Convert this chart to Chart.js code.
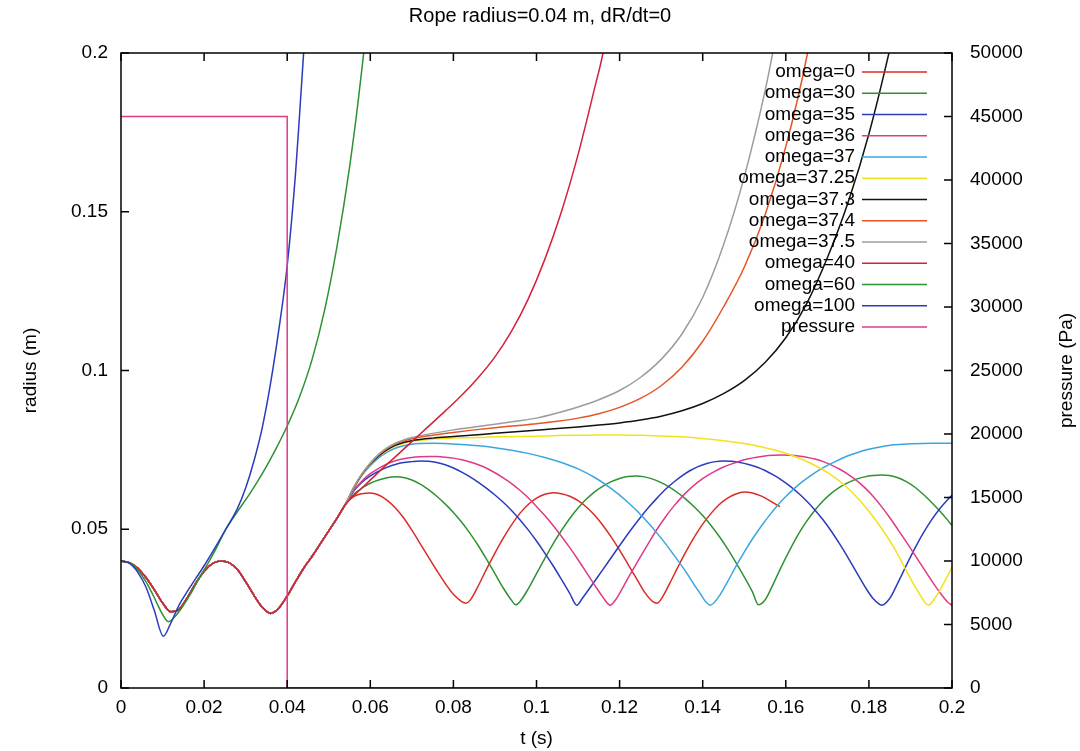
<!DOCTYPE html>
<html>
<head>
<meta charset="utf-8">
<script src="https://cdn.jsdelivr.net/npm/chart.js@4.4.1/dist/chart.umd.min.js"></script>
<style>
html, body { margin: 0; padding: 0; background: #fff; }
</style>
</head>
<body>
<canvas id="chart" width="1080" height="751"></canvas>
<script>
// shared start (omega 0 .. 40 all follow the same path up to t = 0.054)
const tEarly = [0, 0.002, 0.004, 0.006, 0.008, 0.010, 0.012, 0.014, 0.016, 0.018, 0.020, 0.022, 0.024, 0.026,
                0.028, 0.030, 0.032, 0.034, 0.036, 0.038, 0.040, 0.042, 0.044, 0.046, 0.048, 0.050, 0.052, 0.054];
const rEarly = [0.0400, 0.0395, 0.0378, 0.0348, 0.0310, 0.0268, 0.0240, 0.0248, 0.0285, 0.0330, 0.0368, 0.0392, 0.0400, 0.0395,
                0.0373, 0.0335, 0.0292, 0.0254, 0.0235, 0.0252, 0.0290, 0.0335, 0.0378, 0.0415, 0.0455, 0.0495, 0.0535, 0.0578];

// tails [t, radius]
const w0 = [[0.056,0.0603],[0.058,0.0612],[0.060,0.0614],[0.062,0.0608],[0.064,0.0592],[0.066,0.0568],[0.068,0.0536],
  [0.070,0.0497],[0.072,0.0455],[0.074,0.0412],[0.076,0.0370],[0.078,0.0330],[0.080,0.0295],[0.082,0.0272],[0.083,0.0267],
  [0.084,0.0276],[0.086,0.0322],[0.088,0.0375],[0.090,0.0425],[0.092,0.0472],[0.094,0.0514],[0.096,0.0550],[0.098,0.0578],
  [0.100,0.0598],[0.102,0.0610],[0.104,0.0615],[0.106,0.0612],[0.108,0.0604],[0.110,0.0590],[0.112,0.0570],[0.114,0.0544],
  [0.116,0.0512],[0.118,0.0475],[0.120,0.0434],[0.122,0.0390],[0.124,0.0346],[0.126,0.0302],[0.128,0.0272],[0.129,0.0267],
  [0.130,0.0280],[0.132,0.0328],[0.134,0.0380],[0.136,0.0430],[0.138,0.0476],[0.140,0.0516],[0.142,0.0550],[0.144,0.0578],
  [0.146,0.0598],[0.148,0.0611],[0.150,0.0617],[0.152,0.0614],[0.154,0.0605],[0.156,0.0591],[0.1586,0.0571]];

const w30 = [[0.056,0.0610],[0.058,0.0630],[0.060,0.0645],[0.062,0.0655],[0.064,0.0662],[0.066,0.0665],[0.068,0.0663],
  [0.070,0.0655],[0.072,0.0642],[0.074,0.0625],[0.076,0.0604],[0.078,0.0580],[0.080,0.0553],[0.082,0.0522],[0.084,0.0487],
  [0.086,0.0448],[0.088,0.0405],[0.090,0.0360],[0.092,0.0315],[0.094,0.0276],[0.095,0.0262],[0.096,0.0272],[0.098,0.0312],
  [0.100,0.0360],[0.102,0.0408],[0.104,0.0454],[0.106,0.0496],[0.108,0.0534],[0.110,0.0567],[0.112,0.0595],[0.114,0.0618],
  [0.116,0.0636],[0.118,0.0650],[0.120,0.0660],[0.122,0.0666],[0.124,0.0668],[0.126,0.0665],[0.128,0.0658],[0.130,0.0647],
  [0.132,0.0633],[0.134,0.0615],[0.136,0.0594],[0.138,0.0570],[0.140,0.0543],[0.142,0.0512],[0.144,0.0477],[0.146,0.0438],
  [0.148,0.0395],[0.150,0.0350],[0.152,0.0302],[0.1534,0.0262],[0.155,0.0277],[0.157,0.0328],[0.159,0.0384],[0.161,0.0436],
  [0.163,0.0484],[0.165,0.0525],[0.167,0.0560],[0.169,0.0590],[0.171,0.0614],[0.173,0.0633],[0.175,0.0647],[0.177,0.0658],
  [0.179,0.0665],[0.181,0.0669],[0.183,0.0671],[0.185,0.0669],[0.187,0.0662],[0.189,0.0650],[0.191,0.0633],[0.193,0.0611],
  [0.195,0.0586],[0.197,0.0558],[0.199,0.0528],[0.200,0.0512]];

const w35 = [[0.056,0.0620],[0.058,0.0648],[0.060,0.0668],[0.062,0.0683],[0.064,0.0695],[0.066,0.0704],[0.068,0.0710],
  [0.070,0.0713],[0.072,0.0715],[0.074,0.0714],[0.076,0.0710],[0.078,0.0703],[0.080,0.0693],[0.082,0.0680],[0.084,0.0665],
  [0.086,0.0648],[0.088,0.0629],[0.090,0.0608],[0.092,0.0585],[0.094,0.0559],[0.096,0.0530],[0.098,0.0498],[0.100,0.0463],
  [0.102,0.0425],[0.104,0.0385],[0.106,0.0342],[0.108,0.0298],[0.1097,0.0261],[0.111,0.0282],[0.113,0.0318],[0.115,0.0355],
  [0.117,0.0392],[0.119,0.0430],[0.121,0.0467],[0.123,0.0503],[0.125,0.0537],[0.127,0.0569],[0.129,0.0598],[0.131,0.0625],
  [0.133,0.0648],[0.135,0.0668],[0.137,0.0685],[0.139,0.0698],[0.141,0.0707],[0.143,0.0713],[0.145,0.0715],[0.147,0.0714],
  [0.149,0.0710],[0.151,0.0704],[0.153,0.0696],[0.155,0.0685],[0.157,0.0671],[0.159,0.0655],[0.161,0.0636],[0.163,0.0614],
  [0.165,0.0589],[0.167,0.0561],[0.169,0.0529],[0.171,0.0493],[0.173,0.0453],[0.175,0.0410],[0.177,0.0365],[0.179,0.0320],
  [0.181,0.0282],[0.1831,0.0261],[0.185,0.0282],[0.187,0.0332],[0.189,0.0386],[0.191,0.0438],[0.193,0.0486],[0.195,0.0528],
  [0.197,0.0564],[0.199,0.0594],[0.200,0.0607]];

const w36 = [[0.056,0.0622],[0.058,0.0652],[0.060,0.0675],[0.062,0.0692],[0.064,0.0706],[0.066,0.0716],[0.068,0.0722],
  [0.070,0.0726],[0.072,0.0728],[0.074,0.0729],[0.076,0.0729],[0.078,0.0727],[0.080,0.0724],[0.082,0.0719],[0.084,0.0712],
  [0.086,0.0703],[0.088,0.0692],[0.090,0.0678],[0.092,0.0662],[0.094,0.0644],[0.096,0.0623],[0.098,0.0599],[0.100,0.0572],
  [0.102,0.0543],[0.104,0.0512],[0.106,0.0478],[0.108,0.0442],[0.110,0.0404],[0.112,0.0364],[0.114,0.0324],[0.116,0.0286],
  [0.1177,0.0261],[0.119,0.0277],[0.121,0.0322],[0.123,0.0368],[0.125,0.0413],[0.127,0.0457],[0.129,0.0500],[0.131,0.0538],
  [0.133,0.0572],[0.135,0.0602],[0.137,0.0628],[0.139,0.0650],[0.141,0.0668],[0.143,0.0683],[0.145,0.0696],[0.147,0.0706],
  [0.149,0.0715],[0.151,0.0722],[0.153,0.0727],[0.155,0.0731],[0.157,0.0733],[0.159,0.0734],[0.161,0.0733],[0.163,0.0731],
  [0.165,0.0727],[0.167,0.0721],[0.169,0.0713],[0.171,0.0702],[0.173,0.0689],[0.175,0.0673],[0.177,0.0654],[0.179,0.0631],
  [0.181,0.0604],[0.183,0.0572],[0.185,0.0537],[0.187,0.0499],[0.189,0.0460],[0.191,0.0420],[0.193,0.0380],[0.195,0.0340],
  [0.197,0.0302],[0.199,0.0270],[0.200,0.0261]];

const w37 = [[0.056,0.0628],[0.058,0.0670],[0.060,0.0700],[0.062,0.0725],[0.064,0.0742],[0.066,0.0755],[0.068,0.0763],
  [0.070,0.0768],[0.072,0.0770],[0.075,0.0771],[0.078,0.0770],[0.082,0.0767],[0.086,0.0763],[0.090,0.0757],[0.094,0.0749],
  [0.098,0.0739],[0.102,0.0726],[0.106,0.0710],[0.110,0.0690],[0.114,0.0663],[0.118,0.0628],[0.122,0.0585],[0.126,0.0533],
  [0.130,0.0472],[0.133,0.0420],[0.136,0.0365],[0.139,0.0305],[0.1418,0.0261],[0.144,0.0290],[0.146,0.0335],[0.148,0.0383],
  [0.150,0.0428],[0.152,0.0470],[0.154,0.0508],[0.156,0.0543],[0.158,0.0575],[0.160,0.0603],[0.162,0.0628],[0.164,0.0650],
  [0.166,0.0669],[0.168,0.0686],[0.170,0.0701],[0.172,0.0714],[0.174,0.0726],[0.176,0.0736],[0.178,0.0745],[0.180,0.0752],
  [0.183,0.0760],[0.186,0.0766],[0.190,0.0769],[0.195,0.0771],[0.200,0.0771]];

const w3725 = [[0.056,0.0630],[0.058,0.0672],[0.060,0.0705],[0.062,0.0730],[0.064,0.0748],[0.066,0.0762],[0.068,0.0771],
  [0.070,0.0777],[0.074,0.0783],[0.078,0.0786],[0.082,0.0788],[0.086,0.0789],[0.090,0.0791],[0.095,0.0792],[0.100,0.0793],
  [0.105,0.0795],[0.110,0.0796],[0.115,0.0797],[0.120,0.0797],[0.125,0.0796],[0.130,0.0794],[0.135,0.0791],[0.140,0.0786],
  [0.145,0.0779],[0.150,0.0770],[0.154,0.0760],[0.158,0.0747],[0.162,0.0730],[0.166,0.0708],[0.170,0.0679],[0.174,0.0640],
  [0.178,0.0588],[0.182,0.0522],[0.186,0.0443],[0.189,0.0370],[0.192,0.0300],[0.1943,0.0261],[0.196,0.0285],[0.198,0.0330],
  [0.200,0.0380]];

const w373 = [[0.056,0.0630],[0.058,0.0673],[0.060,0.0706],[0.062,0.0731],[0.064,0.0750],[0.066,0.0764],[0.068,0.0773],
  [0.070,0.0779],[0.075,0.0787],[0.080,0.0792],[0.085,0.0797],[0.090,0.0802],[0.095,0.0807],[0.100,0.0812],[0.105,0.0817],
  [0.110,0.0822],[0.115,0.0828],[0.120,0.0835],[0.125,0.0844],[0.130,0.0856],[0.135,0.0873],[0.140,0.0896],[0.145,0.0927],
  [0.150,0.0968],[0.155,0.1025],[0.160,0.1103],[0.165,0.1210],[0.170,0.1355],[0.175,0.1530],[0.180,0.1745],[0.185,0.2010],
  [0.186,0.2070]];

const w374 = [[0.056,0.0631],[0.058,0.0674],[0.060,0.0708],[0.062,0.0734],[0.064,0.0754],[0.066,0.0768],[0.068,0.0778],
  [0.070,0.0785],[0.075,0.0796],[0.080,0.0805],[0.085,0.0813],[0.090,0.0820],[0.095,0.0826],[0.100,0.0832],[0.105,0.0840],
  [0.110,0.0850],[0.115,0.0864],[0.120,0.0884],[0.125,0.0912],[0.130,0.0952],[0.135,0.1010],[0.140,0.1092],[0.145,0.1200],
  [0.150,0.1325],[0.155,0.1490],[0.160,0.1705],[0.165,0.1985],[0.166,0.2060]];

const w375 = [[0.056,0.0632],[0.058,0.0675],[0.060,0.0709],[0.062,0.0736],[0.064,0.0756],[0.066,0.0771],[0.068,0.0781],
  [0.070,0.0789],[0.075,0.0802],[0.080,0.0813],[0.085,0.0822],[0.090,0.0831],[0.095,0.0840],[0.100,0.0850],[0.105,0.0866],
  [0.110,0.0885],[0.115,0.0908],[0.120,0.0937],[0.125,0.0978],[0.130,0.1035],[0.135,0.1115],[0.140,0.1230],[0.145,0.1395],
  [0.150,0.1610],[0.155,0.1880],[0.157,0.2010]];

const w40 = [[0.058,0.0630],[0.062,0.0680],[0.066,0.0728],[0.070,0.0776],[0.074,0.0824],[0.078,0.0872],[0.082,0.0922],
  [0.086,0.0978],[0.090,0.1043],[0.094,0.1124],[0.098,0.1225],[0.102,0.1350],[0.106,0.1500],[0.110,0.1680],[0.114,0.1890],
  [0.116,0.2000],[0.117,0.2080]];

// omega=60 and omega=100 split off early
const w60 = [[0,0.0400],[0.002,0.0395],[0.004,0.0372],[0.006,0.0335],[0.008,0.0285],[0.010,0.0232],[0.0114,0.0209],
  [0.013,0.0225],[0.015,0.0260],[0.017,0.0302],[0.019,0.0350],[0.021,0.0394],[0.023,0.0442],[0.025,0.0495],[0.028,0.0555],
  [0.031,0.0612],[0.034,0.0675],[0.037,0.0746],[0.040,0.0825],[0.043,0.0918],[0.046,0.1035],[0.049,0.1190],[0.052,0.1392],
  [0.055,0.1640],[0.057,0.1840],[0.0585,0.2010]];

const w100 = [[0,0.0400],[0.002,0.0393],[0.004,0.0365],[0.006,0.0318],[0.008,0.0245],[0.0102,0.0163],[0.012,0.0205],
  [0.014,0.0262],[0.016,0.0305],[0.018,0.0345],[0.020,0.0385],[0.022,0.0428],[0.025,0.0495],[0.028,0.0565],[0.030,0.0630],
  [0.032,0.0715],[0.034,0.0820],[0.036,0.0960],[0.038,0.1130],[0.040,0.1330],[0.042,0.1620],[0.043,0.1810],[0.044,0.2010]];

// pressure (Pa), right axis
const tPressure = [0, 0.04, 0.04, 0.2];
const pPressure = [45000, 45000, 0, 0];

const labels = ['omega=0', 'omega=30', 'omega=35', 'omega=36', 'omega=37', 'omega=37.25', 'omega=37.3',
                'omega=37.4', 'omega=37.5', 'omega=40', 'omega=60', 'omega=100', 'pressure'];
const colors = ['#dc2b26', '#2f9232', '#2b3bbd', '#de3b86', '#3aa6e0', '#f2e21c', '#111111',
                '#e65426', '#9c9c9c', '#d6203a', '#2f9232', '#2b3bbd', '#de3b86'];

const early = tEarly.map((t, i) => [t, rEarly[i]]);
const curves = [early.concat(w0), early.concat(w30), early.concat(w35), early.concat(w36), early.concat(w37),
                early.concat(w3725), early.concat(w373), early.concat(w374), early.concat(w375), early.concat(w40),
                w60, w100];

const datasets = curves.map((pts, i) => ({
    label: labels[i],
    data: pts.map(p => ({ x: p[0], y: p[1] })),
    borderColor: colors[i],
    borderWidth: 1.5,
    pointRadius: 0,
    showLine: true,
    fill: false,
    cubicInterpolationMode: 'monotone',
    yAxisID: 'y',
    order: 20 - i
}));
datasets.push({
    label: labels[12],
    data: tPressure.map((t, i) => ({ x: t, y: pPressure[i] })),
    borderColor: colors[12],
    borderWidth: 1.5,
    pointRadius: 0,
    showLine: true,
    fill: false,
    tension: 0,
    yAxisID: 'y2',
    order: 1
});

const FONT = 'Liberation Sans, Arial, sans-serif';

// gnuplot-like frame: box, inward ticks, legend inside, y2 label
const gnuFrame = {
    id: 'gnuFrame',
    afterDatasetsDraw(chart) {
        const ctx = chart.ctx;
        const a = chart.chartArea;
        const tl = 8;
        ctx.save();
        ctx.strokeStyle = '#000';
        ctx.lineWidth = 1.5;
        ctx.strokeRect(a.left, a.top, a.right - a.left, a.bottom - a.top);
        ctx.beginPath();
        chart.scales.x.ticks.forEach(t => {
            const px = chart.scales.x.getPixelForValue(t.value);
            ctx.moveTo(px, a.bottom); ctx.lineTo(px, a.bottom - tl);
            ctx.moveTo(px, a.top); ctx.lineTo(px, a.top + tl);
        });
        chart.scales.y.ticks.forEach(t => {
            const py = chart.scales.y.getPixelForValue(t.value);
            ctx.moveTo(a.left, py); ctx.lineTo(a.left + tl, py);
        });
        chart.scales.y2.ticks.forEach(t => {
            const py = chart.scales.y2.getPixelForValue(t.value);
            ctx.moveTo(a.right, py); ctx.lineTo(a.right - tl, py);
        });
        ctx.stroke();

        // legend
        ctx.font = '19px ' + FONT;
        ctx.fillStyle = '#000';
        ctx.textAlign = 'right';
        ctx.textBaseline = 'middle';
        chart.data.datasets.forEach((ds, i) => {
            const yy = 72 + i * 21.25;
            ctx.fillText(ds.label, 855, yy);
            ctx.strokeStyle = ds.borderColor;
            ctx.lineWidth = 1.5;
            ctx.beginPath();
            ctx.moveTo(862, yy); ctx.lineTo(927, yy);
            ctx.stroke();
        });

        // right axis title, reading upwards like gnuplot
        ctx.font = '19px ' + FONT;
        ctx.textAlign = 'center';
        ctx.translate(1067, (a.top + a.bottom) / 2);
        ctx.rotate(-Math.PI / 2);
        ctx.fillText('pressure (Pa)', 0, 0);
        ctx.restore();
    }
};

new Chart(document.getElementById('chart'), {
    type: 'scatter',
    data: { datasets: datasets },
    options: {
        responsive: false,
        animation: false,
        devicePixelRatio: 1,
        layout: { padding: 0 },
        plugins: {
            legend: { display: false },
            tooltip: { enabled: false },
            title: {
                display: true,
                text: 'Rope radius=0.04 m, dR/dt=0',
                color: '#000',
                font: { family: FONT, size: 20, weight: 'normal' },
                padding: { top: 4, bottom: 25 }
            }
        },
        scales: {
            x: {
                type: 'linear',
                min: 0,
                max: 0.2,
                grid: { display: false, drawTicks: false },
                border: { display: false },
                ticks: {
                    stepSize: 0.02,
                    color: '#000',
                    padding: 8,
                    maxRotation: 0,
                    autoSkip: false,
                    font: { family: FONT, size: 19 },
                    callback: v => String(+v.toFixed(2))
                },
                title: { display: true, text: 't (s)', color: '#000', font: { family: FONT, size: 19 }, padding: { top: 0, bottom: 1 } },
                afterFit: s => { s.height = 63; }
            },
            y: {
                position: 'left',
                min: 0,
                max: 0.2,
                grid: { display: false, drawTicks: false },
                border: { display: false },
                ticks: {
                    stepSize: 0.05,
                    color: '#000',
                    padding: 13,
                    font: { family: FONT, size: 19 },
                    callback: v => String(+v.toFixed(2))
                },
                title: { display: true, text: 'radius (m)', color: '#000', font: { family: FONT, size: 19 }, padding: { top: 19, bottom: 0 } },
                afterFit: s => { s.width = 121; }
            },
            y2: {
                position: 'right',
                min: 0,
                max: 50000,
                grid: { display: false, drawTicks: false },
                border: { display: false },
                ticks: {
                    stepSize: 5000,
                    color: '#000',
                    padding: 18,
                    font: { family: FONT, size: 19 },
                    callback: v => String(v)
                },
                afterFit: s => { s.width = 128; }
            }
        }
    },
    plugins: [gnuFrame]
});
</script>
</body>
</html>
